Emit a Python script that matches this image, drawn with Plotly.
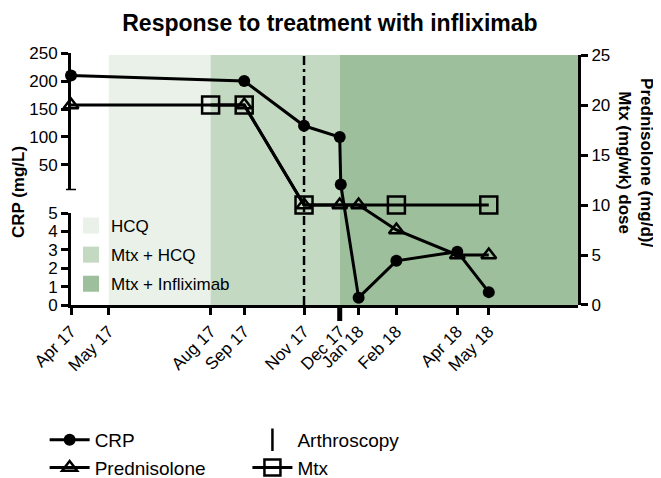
import plotly.graph_objects as go

# visit dates used as x ticks
visit_dates = ['2017-04-10', '2017-05-16', '2017-08-21', '2017-09-22', '2017-11-18',
               '2017-12-22', '2018-01-09', '2018-02-14', '2018-04-13', '2018-05-13']
visit_labels = ['Apr 17', 'May 17', 'Aug 17', 'Sep 17', 'Nov 17',
                'Dec 17', 'Jan 18', 'Feb 18', 'Apr 18', 'May 18']

crp_dates = ['2017-04-10', '2017-09-22', '2017-11-18', '2017-12-22', '2017-12-23',
             '2018-01-09', '2018-02-14', '2018-04-13', '2018-05-13']
crp_values = [210, 200, 120, 100, 15, 0.4, 2.4, 2.9, 0.7]

pred_dates = ['2017-04-10', '2017-09-22', '2017-11-18', '2017-12-22', '2018-01-09',
              '2018-02-14', '2018-04-13', '2018-05-13']
pred_values = [20, 20, 10, 10, 10, 7.5, 5, 5]

mtx_dates = ['2017-08-21', '2017-09-22', '2017-11-18', '2018-02-14', '2018-05-13']
mtx_values = [20, 20, 10, 10, 10]

arthroscopy_date = '2017-11-18'

treatments = ['HCQ', 'Mtx + HCQ', 'Mtx + Infliximab']
treatment_start = ['2017-05-16', '2017-08-21', '2017-12-22']
treatment_end = ['2017-08-21', '2017-12-22', '2018-08-06']
treatment_colors = ['#e9f1e8', '#c4d9c2', '#9dbf9b']

crp_ticks_low = [0, 1, 2, 3, 4, 5]
crp_ticks_high = [50, 100, 150, 200, 250]
dose_ticks = [0, 5, 10, 15, 20, 25]

FONT = 'Liberation Sans, Arial, sans-serif'
X_RANGE = ['2017-04-10', '2018-08-06']

# broken CRP axis: lower part 0-5, upper part 5-250
LOW_DOM = [0, 0.365]
HIGH_DOM = [0.4556, 1.0]
LOW_RANGE = [0, 5]
HIGH_RANGE = [5, 250]
DOSE_TOP = 0.992


def crp_pos(v):
    # map a CRP value onto paper fraction of the broken axis
    if v <= LOW_RANGE[1]:
        f = (v - LOW_RANGE[0]) / (LOW_RANGE[1] - LOW_RANGE[0])
        return LOW_DOM[0] + f * (LOW_DOM[1] - LOW_DOM[0])
    f = (v - HIGH_RANGE[0]) / (HIGH_RANGE[1] - HIGH_RANGE[0])
    return HIGH_DOM[0] + f * (HIGH_DOM[1] - HIGH_DOM[0])


fig = go.Figure()

# treatment periods as background bands
for name, s, e, c in zip(treatments, treatment_start, treatment_end, treatment_colors):
    fig.add_shape(type='rect', xref='x', yref='y2', x0=s, x1=e, y0=0, y1=25,
                  fillcolor=c, line_width=0, layer='below')
    fig.add_trace(go.Scatter(x=[None], y=[None], mode='markers', name=name,
                             marker=dict(symbol='square', size=16, color=c),
                             legend='legend2', legendgroup=name, yaxis='y2'))

# arthroscopy
fig.add_trace(go.Scatter(x=[arthroscopy_date, arthroscopy_date], y=[0, 25], mode='lines',
                         line=dict(color='black', width=2.5, dash='9px,4px,3px,4px'),
                         yaxis='y2', showlegend=False, cliponaxis=False))
fig.add_trace(go.Scatter(x=[None], y=[None], mode='markers', name='Arthroscopy',
                         marker=dict(symbol='line-ns', size=16,
                                     line=dict(color='black', width=2.5)),
                         yaxis='y2', legend='legend3', legendgroup='arth'))

fig.add_trace(go.Scatter(x=mtx_dates, y=mtx_values, name='Mtx', mode='lines+markers',
                         line=dict(color='black', width=3),
                         marker=dict(symbol='square-open', size=17, color='black',
                                     line=dict(width=2.5)),
                         yaxis='y2', cliponaxis=False, legend='legend3', legendgroup='mtx'))
fig.add_trace(go.Scatter(x=pred_dates, y=pred_values, name='Prednisolone', mode='lines+markers',
                         line=dict(color='black', width=3),
                         marker=dict(symbol='triangle-up-open', size=13, color='black',
                                     line=dict(width=2.5)),
                         yaxis='y2', cliponaxis=False, legendgroup='pred', legendrank=2))
fig.add_trace(go.Scatter(x=crp_dates, y=[crp_pos(v) for v in crp_values], name='CRP',
                         mode='lines+markers', line=dict(color='black', width=3),
                         marker=dict(symbol='circle', size=12, color='black'),
                         yaxis='y4', cliponaxis=False, legendgroup='crp', legendrank=1))

# dummy traces so the two visible CRP axes get drawn
fig.add_trace(go.Scatter(x=[None], y=[None], yaxis='y', showlegend=False))
fig.add_trace(go.Scatter(x=[None], y=[None], yaxis='y3', showlegend=False))

axis_style = dict(showline=True, linewidth=3, linecolor='black', ticks='outside',
                  ticklen=7, tickwidth=3, tickcolor='black', showgrid=False,
                  zeroline=False, tickfont=dict(family=FONT, size=17, color='black'))

bottom_legend = dict(orientation='v', xanchor='left', y=-0.46, yanchor='top',
                     traceorder='grouped', tracegroupgap=0, itemwidth=40,
                     font=dict(family=FONT, size=19, color='black'),
                     bgcolor='rgba(0,0,0,0)')

fig.update_layout(
    width=653, height=470,
    margin=dict(l=63, r=83, t=45, b=173, autoexpand=False),
    paper_bgcolor='white', plot_bgcolor='rgba(0,0,0,0)',
    font=dict(family=FONT, color='black'),
    title=dict(text='<b>Response to treatment with infliximab</b>', x=0.493, xref='container',
               xanchor='center', y=0.985, yref='container', yanchor='top',
               font=dict(family=FONT, size=23, color='black')),
    xaxis=dict(type='date', range=X_RANGE, tickvals=visit_dates, ticktext=visit_labels,
               tickangle=-45, anchor='y', **axis_style),
    yaxis=dict(domain=LOW_DOM, range=LOW_RANGE, tickvals=crp_ticks_low, anchor='x',
               **axis_style),
    yaxis3=dict(domain=HIGH_DOM, range=HIGH_RANGE, tickvals=crp_ticks_high, anchor='x',
                **axis_style),
    yaxis2=dict(domain=[0, DOSE_TOP], range=[0, 25], tickvals=dose_ticks, side='right',
                anchor='x', **axis_style),
    yaxis4=dict(range=[0, DOSE_TOP], overlaying='y2', visible=False),
    legend=dict(x=-0.052, **bottom_legend),
    legend3=dict(x=0.348, **bottom_legend),
    legend2=dict(x=0.0, xanchor='left', y=0.385, yanchor='top',
                 tracegroupgap=4, font=dict(family=FONT, size=17, color='black'),
                 bgcolor='rgba(0,0,0,0)'),
    showlegend=True,
)

# cap at the bottom of the upper CRP axis segment
fig.add_shape(type='line', xref='paper', xsizemode='pixel', xanchor=0, x0=-5, x1=5,
              yref='y3', y0=HIGH_RANGE[0], y1=HIGH_RANGE[0],
              line=dict(color='black', width=3))
# heavier tick where the two December visits overlap
fig.add_shape(type='line', xref='x', x0=visit_dates[5], x1=visit_dates[5],
              yref='paper', ysizemode='pixel', yanchor=0, y0=0, y1=-16,
              line=dict(color='black', width=5))

# axis titles
fig.add_annotation(text='<b>CRP (mg/L)</b>', textangle=-90, xref='paper', yref='paper',
                   x=0, xshift=-53, y=0.448, xanchor='center', yanchor='middle',
                   showarrow=False, font=dict(family=FONT, size=17, color='black'))
fig.add_annotation(text='<b>Prednisolone (mg/d)/<br>Mtx (mg/wk) dose</b>', textangle=90,
                   xref='paper', yref='paper', x=1, xshift=58, y=0.567,
                   xanchor='center', yanchor='middle', showarrow=False,
                   font=dict(family=FONT, size=17, color='black'))

fig.write_html('out.html')
